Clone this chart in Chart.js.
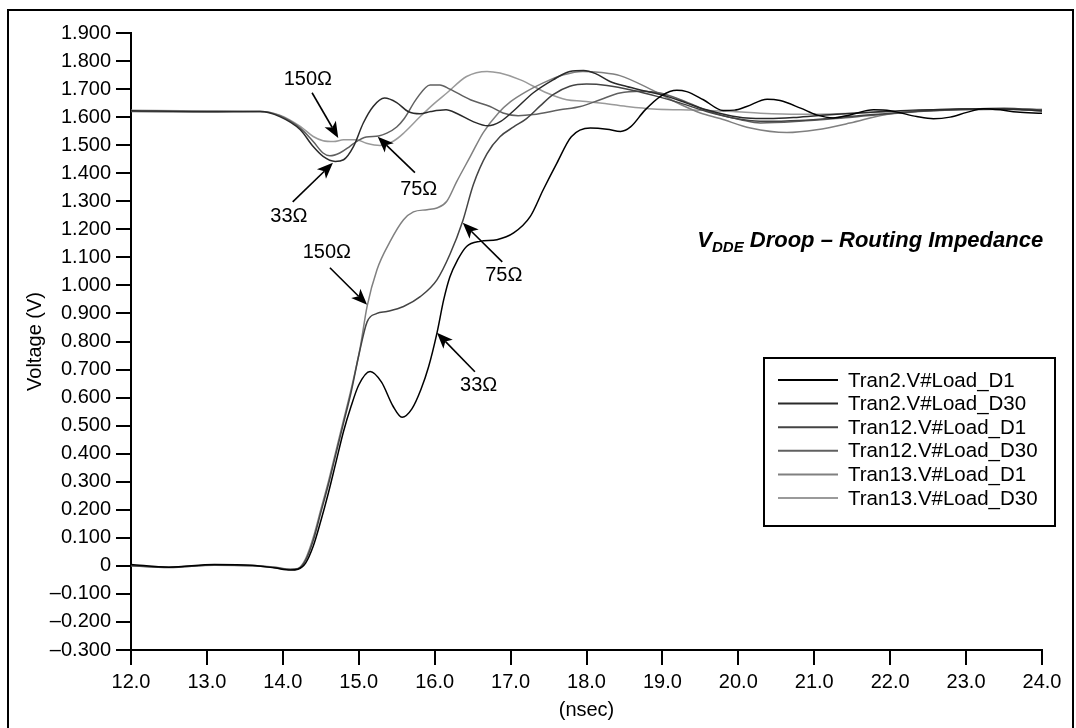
<!DOCTYPE html>
<html>
<head>
<meta charset="utf-8">
<title>VDDE Droop – Routing Impedance</title>
<script src="https://cdn.jsdelivr.net/npm/chart.js@4.4.0/dist/chart.umd.min.js"></script>
<style>
  html, body { margin: 0; padding: 0; background: #fff; }
  #wrap { position: relative; width: 1076px; height: 728px; }
</style>
</head>
<body>
<div id="wrap"><canvas id="droop-chart" width="1076" height="728"></canvas></div>
<script>
// readings taken off the scope plot: time in nsec, voltage in V
const seriesNames = ['Tran2.V#Load_D1', 'Tran2.V#Load_D30', 'Tran12.V#Load_D1',
                     'Tran12.V#Load_D30', 'Tran13.V#Load_D1', 'Tran13.V#Load_D30'];
const seriesColors = ['#000000', '#2a2a2a', '#444444', '#606060', '#808080', '#9a9a9a'];

// 33 ohm, rising load
const tran2D1Time = [12.0, 12.5, 13.1, 13.6, 13.9, 14.1, 14.2, 14.3, 14.4, 14.5, 14.6, 14.7, 14.8, 14.9, 15.0,
  15.15, 15.3, 15.45, 15.57, 15.7, 15.82, 15.92, 16.03, 16.12, 16.2, 16.3, 16.42, 16.6, 16.82, 17.04, 17.26,
  17.43, 17.61, 17.8, 18.05, 18.27, 18.45, 18.58, 18.77, 18.99, 19.19, 19.32, 19.54, 19.8, 19.95, 20.11,
  20.38, 20.55, 20.82, 21.03, 21.25, 21.47, 21.78, 22.0, 22.35, 22.57, 22.79, 23.01, 23.23, 23.45, 23.67, 24.0];
const tran2D1Volt = [0.005, -0.005, 0.005, 0.002, -0.008, -0.015, -0.012, 0.01, 0.07, 0.16, 0.26, 0.37, 0.48, 0.57, 0.645,
  0.693, 0.655, 0.57, 0.53, 0.56, 0.63, 0.71, 0.83, 0.95, 1.03, 1.09, 1.139, 1.157, 1.163, 1.187, 1.246,
  1.341, 1.436, 1.53, 1.561, 1.557, 1.549, 1.565, 1.625, 1.677, 1.696, 1.691, 1.662, 1.624, 1.625, 1.638,
  1.664, 1.659, 1.632, 1.608, 1.597, 1.608, 1.626, 1.623, 1.602, 1.594, 1.600, 1.617, 1.630, 1.626, 1.618, 1.614];

// 33 ohm, droop load
const tran2D30Time = [12.0, 13.0, 13.7, 13.96, 14.23, 14.4, 14.53, 14.69, 14.8, 14.93, 15.06, 15.19, 15.34, 15.5,
  15.65, 15.81, 15.95, 16.15, 16.3, 16.5, 16.7, 16.87, 17.03, 17.3, 17.56, 17.78, 17.96, 18.12, 18.31, 18.53,
  18.79, 19.06, 19.32, 19.58, 19.85, 20.11, 20.4, 20.8, 21.3, 21.8, 22.3, 22.8, 23.3, 23.7, 24.0];
const tran2D30Volt = [1.623, 1.620, 1.620, 1.602, 1.555, 1.495, 1.460, 1.442, 1.448, 1.495, 1.579, 1.638, 1.668, 1.652,
  1.620, 1.612, 1.620, 1.626, 1.612, 1.585, 1.569, 1.585, 1.620, 1.687, 1.733, 1.763, 1.766, 1.755, 1.727, 1.709,
  1.692, 1.674, 1.650, 1.626, 1.608, 1.597, 1.595, 1.600, 1.610, 1.618, 1.625, 1.628, 1.630, 1.627, 1.622];

// 75 ohm, rising load
const tran12D1Time = [12.0, 12.5, 13.1, 13.6, 13.9, 14.1, 14.2, 14.3, 14.4, 14.5, 14.6, 14.7, 14.8, 14.9, 15.0,
  15.11, 15.24, 15.37, 15.59, 15.81, 16.03, 16.2, 16.37, 16.51, 16.69, 16.86, 17.04, 17.21, 17.39, 17.56,
  17.78, 18.0, 18.27, 18.62, 18.93, 19.24, 19.58, 19.93, 20.29, 20.8, 21.5, 22.5, 23.5, 24.0];
const tran12D1Volt = [0.0, -0.006, 0.003, 0.0, -0.006, -0.013, -0.01, 0.02, 0.09, 0.19, 0.29, 0.40, 0.51, 0.62, 0.75,
  0.87, 0.90, 0.907, 0.925, 0.96, 1.02, 1.11, 1.23, 1.36, 1.47, 1.53, 1.565, 1.595, 1.64, 1.68,
  1.71, 1.718, 1.713, 1.695, 1.674, 1.65, 1.62, 1.597, 1.585, 1.588, 1.603, 1.623, 1.632, 1.625];

// 75 ohm, droop load
const tran12D30Time = [12.0, 13.0, 13.7, 13.96, 14.23, 14.4, 14.53, 14.62, 14.75, 14.88, 14.97, 15.1, 15.26, 15.37,
  15.5, 15.6, 15.76, 15.94, 16.07, 16.2, 16.47, 16.73, 16.9, 17.1, 17.3, 17.65, 17.92, 18.18, 18.44, 18.71,
  18.97, 19.24, 19.5, 19.76, 20.03, 20.29, 20.8, 21.5, 22.5, 23.5, 24.0];
const tran12D30Volt = [1.62, 1.618, 1.62, 1.605, 1.561, 1.513, 1.472, 1.462, 1.472, 1.495, 1.513, 1.529, 1.533, 1.543,
  1.565, 1.595, 1.665, 1.715, 1.715, 1.70, 1.662, 1.638, 1.615, 1.605, 1.609, 1.626, 1.638, 1.662, 1.686, 1.692,
  1.686, 1.662, 1.633, 1.608, 1.591, 1.579, 1.585, 1.60, 1.622, 1.628, 1.625];

// 150 ohm, rising load
const tran13D1Time = [12.0, 12.5, 13.1, 13.6, 13.9, 14.1, 14.2, 14.3, 14.4, 14.5, 14.6, 14.7, 14.8, 14.9, 15.02,
  15.11, 15.24, 15.41, 15.59, 15.72, 15.9, 16.03, 16.16, 16.29, 16.47, 16.64, 16.84, 17.0, 17.2, 17.43,
  17.7, 17.95, 18.2, 18.44, 18.84, 19.24, 19.5, 19.76, 20.16, 20.64, 21.03, 21.47, 21.91, 22.35, 23.01, 23.6, 24.0];
const tran13D1Volt = [0.0, -0.004, 0.002, 0.0, -0.005, -0.012, -0.009, 0.025, 0.10, 0.20, 0.30, 0.41, 0.52, 0.63, 0.78,
  0.925, 1.056, 1.155, 1.234, 1.262, 1.27, 1.276, 1.30, 1.37, 1.46, 1.545, 1.615, 1.655, 1.69, 1.722,
  1.751, 1.763, 1.759, 1.748, 1.70, 1.645, 1.615, 1.595, 1.561, 1.545, 1.555, 1.579, 1.608, 1.623, 1.629, 1.628, 1.622];

// 150 ohm, droop load
const tran13D30Time = [12.0, 13.0, 13.7, 13.96, 14.23, 14.4, 14.53, 14.67, 14.8, 14.97, 15.1, 15.28, 15.46, 15.6,
  15.81, 16.0, 16.16, 16.42, 16.69, 16.86, 17.13, 17.48, 17.74, 17.95, 18.18, 18.53, 18.88, 19.24, 19.58, 19.93,
  20.29, 20.8, 21.5, 22.5, 23.5, 24.0];
const tran13D30Volt = [1.625, 1.622, 1.62, 1.607, 1.567, 1.531, 1.516, 1.513, 1.519, 1.519, 1.507, 1.499, 1.515, 1.545,
  1.602, 1.65, 1.686, 1.745, 1.763, 1.757, 1.733, 1.686, 1.662, 1.657, 1.65, 1.638, 1.629, 1.626, 1.624, 1.62,
  1.614, 1.61, 1.614, 1.624, 1.63, 1.628];

// callouts, in data units (nsec, V)
const calloutText = ['150\u03A9', '33\u03A9', '75\u03A9', '150\u03A9', '75\u03A9', '33\u03A9'];
const calloutAt   = [[14.33, 1.733], [14.08, 1.245], [15.79, 1.341], [14.58, 1.116], [16.91, 1.034], [16.58, 0.642]];
const arrowFrom   = [[14.385, 1.687], [14.13, 1.298], [15.74, 1.402], [14.62, 1.063], [16.89, 1.084], [16.53, 0.692]];
const arrowTo     = [[14.73, 1.526], [14.66, 1.437], [15.25, 1.53], [15.11, 0.931], [16.37, 1.223], [16.03, 0.831]];

const FONT = '"Liberation Sans", Arial, Helvetica, sans-serif';

function zip(times, volts) {
    const pts = [];
    for (let i = 0; i < times.length; i++) {
        pts.push({ x: times[i], y: volts[i] });
    }
    return pts;
}

function formatVolt(v) {
    const r = Math.round(v * 1000) / 1000;
    if (Math.abs(r) < 1e-9) return '0';
    if (r < 0) return '\u2013' + Math.abs(r).toFixed(3);
    return r.toFixed(3);
}

function drawArrow(ctx, x1, y1, x2, y2) {
    const ang = Math.atan2(y2 - y1, x2 - x1);
    const len = 16, half = 6.5;
    const bx = x2 - Math.cos(ang) * len * 0.75;
    const by = y2 - Math.sin(ang) * len * 0.75;
    ctx.beginPath();
    ctx.moveTo(x1, y1);
    ctx.lineTo(bx, by);
    ctx.lineWidth = 1.6;
    ctx.stroke();
    // notched head
    const px = -Math.sin(ang), py = Math.cos(ang);
    const hx = x2 - Math.cos(ang) * len;
    const hy = y2 - Math.sin(ang) * len;
    ctx.beginPath();
    ctx.moveTo(x2, y2);
    ctx.lineTo(hx + px * half, hy + py * half);
    ctx.lineTo(bx, by);
    ctx.lineTo(hx - px * half, hy - py * half);
    ctx.closePath();
    ctx.fill();
}

const overlayPlugin = {
    id: 'overlay',
    afterDraw(chart) {
        const ctx = chart.ctx;
        const xs = chart.scales.x, ys = chart.scales.y;
        ctx.save();

        // outer frame
        ctx.strokeStyle = '#000';
        ctx.lineWidth = 2;
        ctx.strokeRect(8, 10, 1065, 740);

        // impedance callouts
        ctx.fillStyle = '#000';
        ctx.font = '20px ' + FONT;
        ctx.textAlign = 'center';
        ctx.textBaseline = 'middle';
        for (let i = 0; i < calloutText.length; i++) {
            ctx.fillText(calloutText[i], xs.getPixelForValue(calloutAt[i][0]), ys.getPixelForValue(calloutAt[i][1]));
            drawArrow(ctx,
                xs.getPixelForValue(arrowFrom[i][0]), ys.getPixelForValue(arrowFrom[i][1]),
                xs.getPixelForValue(arrowTo[i][0]), ys.getPixelForValue(arrowTo[i][1]));
        }

        // plot caption with subscript
        ctx.textAlign = 'left';
        ctx.textBaseline = 'alphabetic';
        let cx = xs.getPixelForValue(19.46);
        const cy = ys.getPixelForValue(1.138);
        ctx.font = 'italic bold 22px ' + FONT;
        ctx.fillText('V', cx, cy);
        cx += ctx.measureText('V').width;
        ctx.font = 'italic bold 15px ' + FONT;
        ctx.fillText('DDE', cx, cy + 5);
        cx += ctx.measureText('DDE').width;
        ctx.font = 'italic bold 22px ' + FONT;
        ctx.fillText(' Droop \u2013 Routing Impedance', cx, cy);

        // legend box
        const lx = 764, ly = 358, lw = 291, lh = 168;
        ctx.lineWidth = 2;
        ctx.strokeRect(lx, ly, lw, lh);
        ctx.font = '20.5px ' + FONT;
        ctx.textBaseline = 'middle';
        chart.data.datasets.forEach((ds, i) => {
            const rowY = ly + 22 + i * 23.6;
            ctx.strokeStyle = ds.borderColor;
            ctx.lineWidth = 2;
            ctx.beginPath();
            ctx.moveTo(lx + 14, rowY);
            ctx.lineTo(lx + 74, rowY);
            ctx.stroke();
            ctx.fillStyle = '#000';
            ctx.fillText(ds.label, lx + 84, rowY + 1);
        });
        ctx.restore();
    }
};

const allTimes = [tran2D1Time, tran2D30Time, tran12D1Time, tran12D30Time, tran13D1Time, tran13D30Time];
const allVolts = [tran2D1Volt, tran2D30Volt, tran12D1Volt, tran12D30Volt, tran13D1Volt, tran13D30Volt];

const datasets = seriesNames.map((name, i) => ({
    label: name,
    data: zip(allTimes[i], allVolts[i]),
    borderColor: seriesColors[i],
    borderWidth: 1.5,
    pointRadius: 0,
    fill: false,
    cubicInterpolationMode: 'monotone'
}));

Chart.defaults.color = '#000';
Chart.defaults.font.family = FONT;
Chart.defaults.font.size = 20;

const ctx = document.getElementById('droop-chart').getContext('2d');
const droopChart = new Chart(ctx, {
    type: 'line',
    data: { datasets: datasets },
    options: {
        responsive: false,
        animation: false,
        devicePixelRatio: 1,
        layout: { padding: { left: 0, top: 33, right: 34, bottom: 0 } },
        plugins: {
            legend: { display: false },
            tooltip: { enabled: false }
        },
        scales: {
            x: {
                type: 'linear',
                min: 12,
                max: 24,
                border: { color: '#000', width: 2 },
                grid: { drawOnChartArea: false, tickLength: 15, color: '#000', lineWidth: 2 },
                ticks: {
                    stepSize: 1,
                    padding: 5,
                    maxRotation: 0,
                    autoSkip: false,
                    callback: v => Number(v).toFixed(1)
                },
                title: { display: true, text: '(nsec)', padding: { top: 0, bottom: 6 } },
                afterFit: axis => { axis.height = 78; }
            },
            y: {
                min: -0.3,
                max: 1.9,
                border: { color: '#000', width: 2 },
                grid: { drawOnChartArea: false, tickLength: 15, color: '#000', lineWidth: 2 },
                ticks: {
                    stepSize: 0.1,
                    padding: 5,
                    autoSkip: false,
                    callback: v => formatVolt(v)
                },
                title: { display: true, text: 'Voltage (V)', padding: { top: 23, bottom: 0 } },
                afterFit: axis => { axis.width = 131; }
            }
        }
    },
    plugins: [overlayPlugin]
});
</script>
</body>
</html>
